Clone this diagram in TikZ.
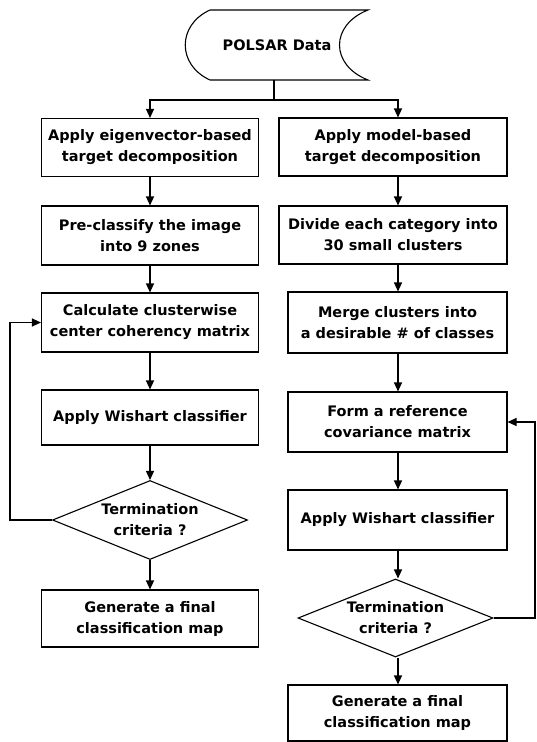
\documentclass[tikz,border=0pt]{standalone}
\usepackage{fontspec}
\setmainfont{DejaVu Sans}
\usetikzlibrary{shapes.geometric,arrows.meta}
\begin{document}
\begin{tikzpicture}[x=1pt,y=-1pt,
  every node/.style={font=\bfseries\fontsize{14.5}{21}\selectfont},
  line/.style={line width=1.1pt, line join=miter},
  arr/.style={line, -{Triangle[length=9pt,width=8pt]}},
  boxL/.style={draw, line width=1.1pt, rectangle, align=center, inner sep=0pt, minimum width=217pt},
  boxR/.style={draw, line width=1.1pt, rectangle, align=center, inner sep=0pt, minimum width=219pt},
  dec/.style={draw, line width=1.1pt, diamond, aspect=2.5, align=center, inner sep=0pt, minimum width=195pt, minimum height=79pt}]
\useasboundingbox (0,0) rectangle (536,742);
% data shape
\draw[line] (210,10) -- (368,10) .. controls (330,25) and (330,65) .. (368,80)
  -- (210,80) .. controls (177,65) and (177,25) .. (210,10) -- cycle;
\node (data) at (277,45) {POLSAR Data};
\coordinate (dbot) at (274,80);
\coordinate (split) at (274,100);
\coordinate (lc) at (150,0);
\coordinate (rc) at (398,0);
% left column
\node[boxL, minimum height=58pt] (L1) at (150,147.5) {Apply eigenvector-based\\target decomposition};
\node[boxL, minimum height=59pt] (L2) at (150,235.5) {Pre-classify the image\\into 9 zones};
\node[boxL, minimum height=59pt] (L3) at (150,322.5) {Calculate clusterwise\\center coherency matrix};
\node[boxL, minimum height=55pt] (L4) at (150,417.5) {Apply Wishart classifier};
\node[dec] (LD) at (150,520) {Termination\\criteria ?};
\node[boxL, minimum height=57pt] (L5) at (150,618.5) {Generate a final\\classification map};
% right column
\node[boxR, minimum height=58pt, minimum width=228pt] (R1) at (393,147) {Apply model-based\\target decomposition};
\node[boxR, minimum height=58pt, minimum width=228pt] (R2) at (393,235) {Divide each category into\\30 small clusters};
\node[boxR, minimum height=61pt] (R3) at (397.5,322.5) {Merge clusters into\\a desirable \# of classes};
\node[boxR, minimum height=60pt] (R4) at (397.5,422) {Form a reference\\covariance matrix};
\node[boxR, minimum height=60pt] (R5) at (397.5,520) {Apply Wishart classifier};
\node[dec, minimum height=78pt] (RD) at (395.5,618) {Termination\\criteria ?};
\node[boxR, minimum height=56pt] (R6) at (397.5,713) {Generate a final\\classification map};
% top split
\draw[line] (dbot) -- (split);
\draw[arr] (split) -- (split -| lc) -- (L1.north -| lc);
\draw[arr] (split) -- (split -| rc) -- (R1.north -| rc);
% left arrows
\draw[arr] (L1.south -| lc) -- (L2.north -| lc);
\draw[arr] (L2.south -| lc) -- (L3.north -| lc);
\draw[arr] (L3.south -| lc) -- (L4.north -| lc);
\draw[arr] (L4.south -| lc) -- (LD.north -| lc);
\draw[arr] (LD.south -| lc) -- (L5.north -| lc);
\coordinate (lloop) at (10,0);
\draw[arr] (LD.west) -- (LD.west -| lloop) -- (L3.west -| lloop) -- (L3.west);
% right arrows
\draw[arr] (R1.south -| rc) -- (R2.north -| rc);
\draw[arr] (R2.south -| rc) -- (R3.north -| rc);
\draw[arr] (R3.south -| rc) -- (R4.north -| rc);
\draw[arr] (R4.south -| rc) -- (R5.north -| rc);
\draw[arr] (R5.south -| rc) -- (RD.north -| rc);
\draw[arr] (RD.south -| rc) -- (R6.north -| rc);
\coordinate (rloop) at (535,0);
\draw[arr] (RD.east) -- (RD.east -| rloop) -- (R4.east -| rloop) -- (R4.east);
\end{tikzpicture}
\end{document}
